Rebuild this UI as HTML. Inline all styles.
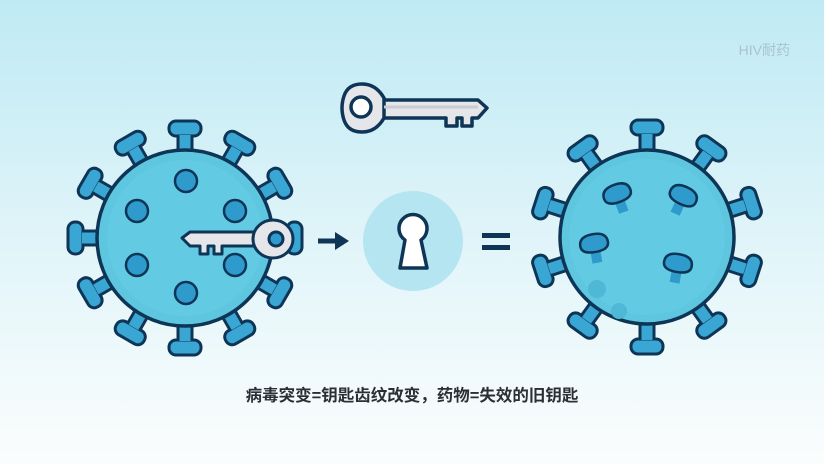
<!DOCTYPE html>
<html><head><meta charset="utf-8"><style>
body{margin:0;width:824px;height:464px;overflow:hidden;background:#fff}
svg{display:block}
</style></head><body>
<svg width="824" height="464" viewBox="0 0 824 464" xmlns="http://www.w3.org/2000/svg">
<defs>
<linearGradient id="bg" x1="0" y1="0" x2="0" y2="1">
<stop offset="0" stop-color="#bfeaf4"/><stop offset="0.55" stop-color="#e2f5f9"/><stop offset="1" stop-color="#fbfdfd"/>
</linearGradient>
<g id="spk">
<rect x="-7" y="-104" width="14" height="24" fill="#3aa6d4" stroke="#0f3556" stroke-width="3"/>
<rect x="-16" y="-117" width="32" height="15" rx="7" fill="#3aa6d4" stroke="#0f3556" stroke-width="3"/>
<rect x="-5.5" y="-103" width="11" height="21" fill="#3aa6d4"/>
</g>
<g id="mini">
<rect x="-5" y="-2" width="10" height="16" fill="#2f9bcd"/>
<path d="M-14,-5 Q-14,-15 0,-15 Q14,-15 14,-5 Q14,3 0,3 Q-14,3 -14,-5Z" fill="#2f9bcd" stroke="#0f3556" stroke-width="2.5"/>
</g>
</defs>
<rect width="824" height="464" fill="url(#bg)"/>
<text x="790" y="55" text-anchor="end" font-family="Liberation Sans,'Noto Sans CJK SC',sans-serif" font-size="14" fill="#a9c3cb">HIV耐药</text>

<g transform="translate(185,238)">
<use href="#spk" transform="rotate(0)"/><use href="#spk" transform="rotate(30)"/><use href="#spk" transform="rotate(60)"/><use href="#spk" transform="rotate(90)"/><use href="#spk" transform="rotate(120)"/><use href="#spk" transform="rotate(150)"/><use href="#spk" transform="rotate(180)"/><use href="#spk" transform="rotate(210)"/><use href="#spk" transform="rotate(240)"/><use href="#spk" transform="rotate(270)"/><use href="#spk" transform="rotate(300)"/><use href="#spk" transform="rotate(330)"/>
<circle r="88" fill="#5ec7df" stroke="#0f3556" stroke-width="3.5"/>
<circle r="78" fill="#62cbe3"/>
<g fill="#2f9bcd" stroke="#0f3556" stroke-width="2.5">
<circle cx="1" cy="-57" r="11"/><circle cx="-48" cy="-27" r="11"/><circle cx="50" cy="-27" r="11"/>
<circle cx="-48" cy="27" r="11"/><circle cx="50" cy="27" r="11"/><circle cx="1" cy="55" r="11"/>
</g>
</g>
<g stroke="#0f3556" stroke-width="3" fill="#e4e6ea" stroke-linejoin="round">
<path d="M182,238 L190,232 L262,232 L262,246 L222,246 L222,254 L214,254 L214,246 L208,246 L208,254 L200,254 L200,246 L190,246 Z"/>
<ellipse cx="273" cy="239" rx="20" ry="19"/>
<circle cx="276" cy="239" r="7" fill="#2f9bcd"/>
</g>

<g stroke="#0f3556" stroke-width="3.5" fill="#e4e6ea" stroke-linejoin="round">
<path d="M378,100 L478,100 L487,108 L478,118 L472,118 L472,126 L462,126 L462,118 L457,118 L457,126 L446,126 L446,118 L378,118 Z"/>
<path d="M344,96 Q348,84 362,84 Q376,84 384,98 L384,118 Q376,132 362,132 Q348,132 344,120 Q340,108 344,96Z"/>
<circle cx="361" cy="107" r="10" fill="#fff"/>
</g>
<line x1="384" y1="107" x2="478" y2="107" stroke="#c9ccd2" stroke-width="3"/>

<line x1="318" y1="241" x2="338" y2="241" stroke="#0f3556" stroke-width="5"/>
<path d="M335,232 L349,241 L335,250Z" fill="#0f3556"/>

<circle cx="413" cy="241" r="50" fill="#b4e5f1"/>
<path d="M405,240 A14,14 0 1 1 421,240 L427,268 L400,268 Z" fill="#fff" stroke="#0f3556" stroke-width="3.5" stroke-linejoin="round"/>

<rect x="482" y="233" width="28" height="5" fill="#0f3556"/>
<rect x="482" y="245" width="28" height="5" fill="#0f3556"/>

<g transform="translate(647,237)">
<use href="#spk" transform="rotate(0)"/><use href="#spk" transform="rotate(36)"/><use href="#spk" transform="rotate(72)"/><use href="#spk" transform="rotate(108)"/><use href="#spk" transform="rotate(144)"/><use href="#spk" transform="rotate(180)"/><use href="#spk" transform="rotate(216)"/><use href="#spk" transform="rotate(252)"/><use href="#spk" transform="rotate(288)"/><use href="#spk" transform="rotate(324)"/>
<circle r="87" fill="#5ec7df" stroke="#0f3556" stroke-width="3.5"/>
<circle r="78" fill="#62cbe3"/>
<use href="#mini" transform="translate(-28,-38) rotate(-20)"/>
<use href="#mini" transform="translate(34,-36) rotate(25)"/>
<use href="#mini" transform="translate(-52,12) rotate(-10)"/>
<use href="#mini" transform="translate(30,32) rotate(10)"/>
<circle cx="-50" cy="52" r="9" fill="#4fb8d6"/>
<circle cx="-28" cy="74" r="8" fill="#4fb8d6"/>
</g>

<text x="412" y="401" text-anchor="middle" font-family="Liberation Sans,'Noto Sans CJK SC',sans-serif" font-size="16.5" font-weight="600" fill="#2a2f36">病毒突变=钥匙齿纹改变，药物=失效的旧钥匙</text>
</svg>
</body></html>
